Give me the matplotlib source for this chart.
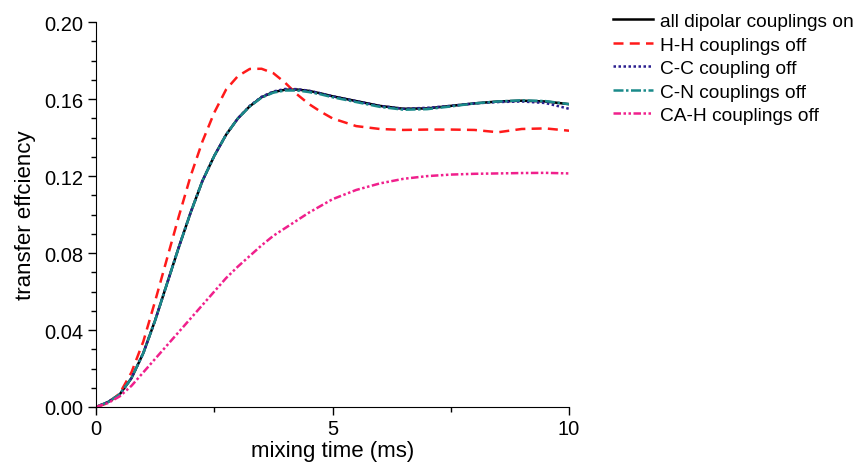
import numpy as np
import matplotlib.pyplot as plt
from matplotlib.ticker import MultipleLocator

# mixing time (ms)
t = [0, 0.25, 0.5, 0.75, 1.0, 1.25, 1.5, 1.75, 2.0, 2.25, 2.5, 2.75, 3.0, 3.25,
     3.5, 3.75, 4.0, 4.25, 4.5, 4.75, 5.0, 5.5, 6.0, 6.5, 7.0, 7.5, 8.0, 8.5,
     9.0, 9.5, 10.0]

all_on = [0, 0.0025, 0.0065, 0.015, 0.028, 0.045, 0.064, 0.083, 0.101, 0.1175,
          0.1305, 0.1415, 0.150, 0.1563, 0.161, 0.1637, 0.1649, 0.165, 0.1643,
          0.163, 0.1615, 0.159, 0.1565, 0.155, 0.1552, 0.1565, 0.1578, 0.1588,
          0.1592, 0.1588, 0.1574]

hh_off = [0, 0.002, 0.007, 0.018, 0.034, 0.055, 0.077, 0.099, 0.120, 0.138,
          0.153, 0.165, 0.172, 0.1757, 0.1758, 0.1735, 0.1685, 0.1625, 0.1575,
          0.1535, 0.150, 0.146, 0.1445, 0.144, 0.1442, 0.1442, 0.144, 0.1428,
          0.1445, 0.1448, 0.1436]

cc_off = [0, 0.0025, 0.0065, 0.015, 0.028, 0.045, 0.064, 0.083, 0.101, 0.1175,
          0.1305, 0.1415, 0.150, 0.1565, 0.1612, 0.164, 0.1653, 0.1652, 0.1644,
          0.163, 0.1615, 0.159, 0.1565, 0.155, 0.1555, 0.1565, 0.1578, 0.1585,
          0.1588, 0.158, 0.155]

cn_off = [0, 0.0025, 0.0065, 0.015, 0.028, 0.045, 0.064, 0.083, 0.101, 0.1175,
          0.1305, 0.1415, 0.150, 0.1562, 0.1608, 0.1634, 0.1645, 0.1645, 0.1637,
          0.1625, 0.161, 0.1585, 0.156, 0.1545, 0.1548, 0.1562, 0.1578, 0.1588,
          0.1594, 0.159, 0.1574]

cah_off = [0, 0.002, 0.0055, 0.011, 0.018, 0.025, 0.032, 0.039, 0.046, 0.053,
           0.060, 0.067, 0.073, 0.0785, 0.084, 0.089, 0.093, 0.097, 0.101,
           0.1045, 0.108, 0.1128, 0.1162, 0.1186, 0.120, 0.1208, 0.1212,
           0.1214, 0.1216, 0.1217, 0.1214]

labels = ["all dipolar couplings on", "H-H couplings off", "C-C coupling off",
          "C-N couplings off", "CA-H couplings off"]

plt.rcParams['font.family'] = ['Liberation Sans', 'DejaVu Sans']

fig = plt.figure(figsize=(8.57, 4.64), dpi=100)
ax = fig.add_axes([0.112, 0.1207, 0.552, 0.8293])

ax.plot(t, all_on, color='black', lw=1.8, ls='-', label=labels[0])
ax.plot(t, hh_off, color='#ff1a1a', lw=1.8, ls=(0, (4, 2.5)), label=labels[1])
ax.plot(t, cc_off, color='#2b1f8f', lw=1.8, ls=(0, (1, 1)), label=labels[2])
ax.plot(t, cn_off, color='#1a8a8a', lw=1.8, ls=(0, (4, 1, 1, 1)), label=labels[3])
ax.plot(t, cah_off, color='#f0208c', lw=1.8, ls=(0, (3, 1, 1, 1, 1, 1)), label=labels[4])

ax.set_xlim(0, 10)
ax.set_ylim(0, 0.2)
ax.xaxis.set_major_locator(MultipleLocator(5))
ax.xaxis.set_minor_locator(MultipleLocator(2.5))
ax.yaxis.set_major_locator(MultipleLocator(0.04))
ax.yaxis.set_minor_locator(MultipleLocator(0.01))
ax.yaxis.set_major_formatter(plt.FormatStrFormatter('%.2f'))
ax.tick_params(which='major', direction='out', length=6, width=1, labelsize=14.5, pad=3)
ax.tick_params(which='minor', direction='out', length=3.5, width=1)
ax.spines['top'].set_visible(False)
ax.spines['right'].set_visible(False)
ax.set_xlabel("mixing time (ms)", fontsize=16, labelpad=1)
ax.set_ylabel("transfer effciency", fontsize=16, labelpad=6)

ax.legend(loc='upper left', bbox_to_anchor=(1.076, 1.045), frameon=False,
          fontsize=13.8, handlelength=2.1, handletextpad=0.36, labelspacing=0.32,
          borderaxespad=0)

plt.savefig("out.png", dpi=100)
